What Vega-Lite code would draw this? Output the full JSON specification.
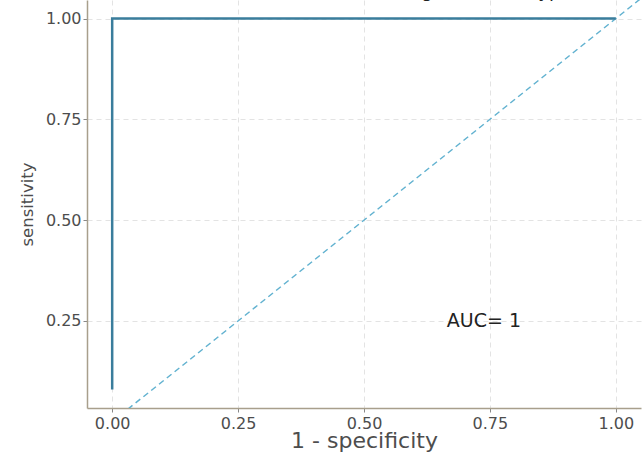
{
  "$schema": "https://vega.github.io/schema/vega-lite/v6.json",
  "autosize": {"type": "none"},
  "width": 554,
  "height": 408,
  "padding": {"left": 87, "top": 0, "right": 1, "bottom": 44},
  "background": "white",
  "config": {
    "view": {"stroke": null},
    "font": "DejaVu Sans",
    "axis": {
      "domainColor": "#a89f8c",
      "domainWidth": 1.5,
      "tickColor": "#888888",
      "tickSize": 4,
      "labelColor": "#4d4d4d",
      "labelFontSize": 16,
      "labelFont": "DejaVu Sans",
      "titleColor": "#4d4d4d",
      "titleFont": "DejaVu Sans",
      "titleFontWeight": "normal",
      "gridColor": "#e3e3e3",
      "gridDash": [5, 4],
      "gridWidth": 1
    }
  },
  "datasets": {
    "roc": [
      {"fpr": 0, "tpr": 0.08, "ord": 1},
      {"fpr": 0, "tpr": 1, "ord": 2},
      {"fpr": 1, "tpr": 1, "ord": 3}
    ],
    "diag": [
      {"fpr": 0, "tpr": 0},
      {"fpr": 1.1, "tpr": 1.1}
    ],
    "lab": [
      {"fpr": 0.738, "tpr": 0.25, "text": "AUC= 1"}
    ],
    "ttl": [
      {"fpr": 0.496, "tpr": 1.053, "text": "Training dataset - Hypertension"}
    ]
  },
  "layer": [
    {
      "data": {"name": "diag"},
      "mark": {"type": "line", "clip": true, "color": "#62b2d0", "strokeWidth": 1.5, "strokeDash": [6, 4]},
      "encoding": {
        "x": {"field": "fpr", "type": "quantitative", "scale": {"domain": [-0.05, 1.05], "nice": false, "zero": false},
          "axis": {"values": [0, 0.25, 0.5, 0.75, 1], "format": ".2f", "title": "1 - specificity", "titleFontSize": 22, "titleY": 39, "titleBaseline": "alphabetic", "labelPadding": 3}},
        "y": {"field": "tpr", "type": "quantitative", "scale": {"domain": [0.034, 1.046], "nice": false, "zero": false},
          "axis": {"values": [0.25, 0.5, 0.75, 1], "format": ".2f", "title": "sensitivity", "titleFontSize": 16.5, "titlePadding": 10, "labelPadding": 2}}
      }
    },
    {
      "data": {"name": "roc"},
      "mark": {"type": "line", "clip": true, "color": "#3a7d9c", "strokeWidth": 2.5},
      "encoding": {
        "x": {"field": "fpr", "type": "quantitative"},
        "y": {"field": "tpr", "type": "quantitative"},
        "order": {"field": "ord"}
      }
    },
    {
      "data": {"name": "lab"},
      "mark": {"type": "text", "fontSize": 19, "color": "#222222", "font": "DejaVu Sans"},
      "encoding": {
        "x": {"field": "fpr", "type": "quantitative"},
        "y": {"field": "tpr", "type": "quantitative"},
        "text": {"field": "text"}
      }
    },
    {
      "data": {"name": "ttl"},
      "mark": {"type": "text", "fontSize": 18, "color": "#222222", "font": "DejaVu Sans", "baseline": "alphabetic", "align": "left"},
      "encoding": {
        "x": {"field": "fpr", "type": "quantitative"},
        "y": {"field": "tpr", "type": "quantitative"},
        "text": {"field": "text"}
      }
    }
  ]
}
